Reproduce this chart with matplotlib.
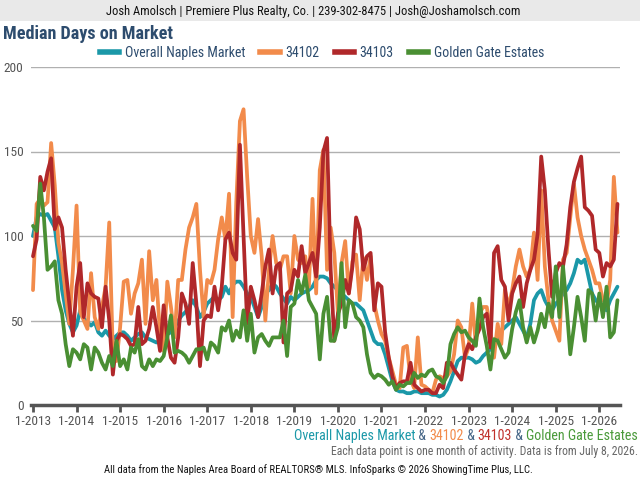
import numpy as np
import matplotlib
matplotlib.use("Agg")
import matplotlib.pyplot as plt
from matplotlib import font_manager
from matplotlib.lines import Line2D
from matplotlib.patches import Rectangle

# prefer a condensed sans, the original uses a narrow Helvetica-like face
fonts = font_manager.fontManager.ttflist
names = {f.name for f in fonts}
STRETCH = "normal"
if "Liberation Sans Narrow" in names:
    FONT = "Liberation Sans Narrow"
elif "Roboto Condensed" in names:
    FONT = "Roboto Condensed"
elif any(f.name == "DejaVu Sans" and f.stretch == "condensed" for f in fonts):
    FONT, STRETCH = "DejaVu Sans", "condensed"
else:
    FONT = "Liberation Sans"
plt.rcParams["font.family"] = [FONT, "DejaVu Sans"]
plt.rcParams["font.stretch"] = STRETCH

# monthly median days on market, Jan 2013 .. Jun 2026
overall = (
    [100, 111, 113, 112, 113, 109, 105, 88, 68, 56, 48, 43]
    + [47, 56, 51, 49, 47, 49, 43, 41, 44, 41, 39, 41]
    + [43, 43, 41, 38, 40, 42, 43, 40, 39, 38, 37, 38]
    + [40, 42, 43, 46, 50, 53, 55, 58, 62, 58, 52, 55]
    + [60, 62, 64, 62, 64, 70, 66, 71, 73, 73, 70, 66]
    + [64, 58, 52, 58, 66, 68, 72, 70, 66, 63, 60, 64]
    + [62, 64, 66, 67, 68, 70, 74, 76, 76, 75, 72, 70]
    + [68, 66, 64, 62, 60, 60, 58, 56, 50, 44, 38, 36]
    + [36, 30, 22, 14, 9, 8, 8, 7, 7, 8, 8, 7]
    + [7, 7, 6, 6, 5, 6, 9, 14, 20, 26, 28, 28]
    + [28, 27, 25, 26, 29, 31, 33, 36, 40, 44, 46, 48]
    + [50, 52, 48, 44, 40, 48, 62, 66, 68, 62, 58, 56]
    + [60, 62, 66, 68, 72, 78, 86, 84, 86, 76, 66, 62]
    + [60, 58, 56, 62, 66, 70]
)
zip_34102 = (
    [68, 119, 122, 118, 120, 155, 130, 96, 84, 66, 48, 80]
    + [118, 55, 50, 45, 78, 52, 45, 58, 70, 108, 30, 26]
    + [46, 73, 74, 54, 66, 72, 86, 48, 91, 62, 74, 42]
    + [32, 73, 58, 40, 74, 74, 92, 105, 111, 119, 80, 52]
    + [74, 72, 80, 98, 111, 98, 125, 52, 120, 168, 175, 135]
    + [100, 90, 110, 88, 50, 80, 100, 84, 80, 88, 88, 66]
    + [100, 86, 84, 88, 70, 122, 66, 139, 151, 80, 105, 90]
    + [54, 84, 97, 66, 85, 89, 62, 87, 74, 88, 60, 50]
    + [42, 38, 28, 20, 12, 10, 34, 35, 15, 10, 40, 12]
    + [11, 9, 7, 15, 17, 16, 17, 20, 30, 50, 46, 28]
    + [34, 60, 36, 54, 58, 58, 44, 28, 48, 36, 68, 58]
    + [68, 82, 92, 82, 76, 80, 102, 74, 127, 82, 62, 50]
    + [44, 38, 86, 90, 111, 131, 111, 100, 92, 86, 80, 72]
    + [72, 62, 60, 74, 135, 102]
)
zip_34103 = (
    [88, 98, 135, 127, 138, 146, 104, 111, 105, 80, 60, 41]
    + [70, 84, 52, 72, 66, 64, 63, 46, 70, 50, 18, 38]
    + [42, 41, 39, 35, 36, 58, 36, 38, 45, 58, 46, 32]
    + [59, 40, 28, 25, 40, 66, 60, 48, 84, 60, 23, 50]
    + [53, 52, 70, 56, 70, 98, 102, 90, 86, 154, 100, 48]
    + [70, 62, 52, 66, 82, 92, 66, 82, 84, 37, 66, 68]
    + [80, 76, 94, 78, 84, 90, 76, 105, 150, 158, 80, 38]
    + [54, 60, 74, 66, 82, 111, 104, 80, 88, 90, 56, 72]
    + [70, 43, 28, 17, 10, 13, 14, 14, 25, 12, 10, 8]
    + [9, 9, 7, 7, 12, 10, 25, 25, 21, 18, 15, 30]
    + [36, 33, 40, 45, 52, 54, 34, 90, 94, 74, 70, 50]
    + [66, 72, 76, 58, 72, 80, 86, 101, 147, 127, 92, 64]
    + [78, 84, 82, 95, 117, 132, 140, 147, 117, 115, 112, 92]
    + [90, 76, 84, 82, 86, 119]
)
golden_gate = (
    [106, 103, 131, 111, 80, 82, 85, 62, 54, 36, 23, 33]
    + [31, 27, 36, 34, 21, 34, 31, 25, 21, 29, 23, 38]
    + [23, 27, 21, 34, 31, 39, 23, 21, 27, 23, 27, 26]
    + [29, 40, 53, 31, 32, 31, 29, 25, 29, 33, 33, 34]
    + [27, 37, 35, 31, 46, 44, 50, 38, 44, 40, 56, 38]
    + [54, 31, 40, 42, 38, 35, 40, 40, 40, 50, 29, 58]
    + [60, 74, 66, 77, 62, 58, 54, 27, 54, 64, 38, 38]
    + [46, 84, 46, 62, 60, 52, 50, 46, 30, 19, 16, 18]
    + [17, 15, 12, 14, 9, 12, 11, 13, 13, 19, 16, 18]
    + [17, 20, 21, 17, 16, 13, 17, 36, 42, 46, 43, 44]
    + [40, 38, 35, 63, 46, 35, 21, 39, 38, 33, 28, 31]
    + [45, 55, 62, 46, 37, 46, 37, 44, 54, 46, 60, 52]
    + [82, 52, 82, 58, 30, 46, 64, 52, 38, 68, 66, 50]
    + [66, 52, 70, 40, 43, 62]
)

series_names = ["Overall Naples Market", "34102", "34103", "Golden Gate Estates"]
series_colors = ["#1b98a8", "#f28b4b", "#b0282a", "#4a8f33"]
year_labels = ["1-%d" % y for y in range(2013, 2027)]

TEXT_BLUE = "#2d4c6e"
GRAY = "#555555"

BANNER = "Josh Amolsch | Premiere Plus Realty, Co. | 239-302-8475 | Josh@Joshamolsch.com"
TITLE = "Median Days on Market"
NOTE = "Each data point is one month of activity. Data is from July 8, 2026."
SOURCE = ("All data from the Naples Area Board of REALTORS\u00ae MLS. "
          "InfoSparks \u00a9 2026 ShowingTime Plus, LLC.")

fig = plt.figure(figsize=(6.4, 4.8), dpi=100)
r = fig.canvas.get_renderer()


def fit_size(text, width_px, **kw):
    # font size that makes `text` about width_px wide
    t = fig.text(0, 0, text, fontsize=10, **kw)
    w = t.get_window_extent(renderer=r).width
    t.remove()
    return 10 * width_px / w


banner_fs = fit_size(BANNER, 410)
title_fs = fit_size(TITLE, 170, fontweight="bold")
legend_fs = fit_size("Overall Naples Market", 120)
tick_fs = fit_size("1-2013", 36)
caption_fs = fit_size("Overall Naples Market & 34102 & 34103 & Golden Gate Estates", 344)
note_fs = fit_size(NOTE, 306)
source_fs = fit_size(SOURCE, 426)

# header banner
fig.patches.append(Rectangle((0, 1 - 21 / 480), 1, 21 / 480, transform=fig.transFigure,
                             facecolor="#e9e9e9", edgecolor="none", zorder=0))
fig.text(0.49, 1 - 11 / 480, BANNER, ha="center", va="center", fontsize=banner_fs, color="#111111")
fig.text(3 / 640, 1 - 34 / 480, TITLE, ha="left", va="center",
         fontsize=title_fs, fontweight="bold", color=TEXT_BLUE)

ax = fig.add_axes([30.6 / 640, 75 / 480, (620 - 30.6) / 640, 338 / 480])

x = np.arange(len(overall))
for vals, name, col in zip([overall, zip_34102, zip_34103, golden_gate], series_names, series_colors):
    ax.plot(x, vals, color=col, lw=2.7, solid_joinstyle="round", solid_capstyle="round", label=name)

ax.set_xlim(-0.66, 161.7)
ax.set_ylim(0, 200)
ax.set_yticks([0, 50, 100, 150, 200])
ax.set_xticks(np.arange(0, len(year_labels) * 12, 12))
ax.set_xticklabels(year_labels)
ax.grid(axis="y", color="#b0b0b0", lw=1)
ax.set_axisbelow(True)
for s in ["top", "right", "left"]:
    ax.spines[s].set_visible(False)
ax.spines["bottom"].set_color(GRAY)
ax.spines["bottom"].set_linewidth(2.5)
ax.tick_params(axis="x", length=5, width=2, color=GRAY, labelcolor=GRAY, labelsize=tick_fs, pad=2)
ax.tick_params(axis="y", length=0, labelcolor=GRAY, labelsize=tick_fs, pad=5)

handles = [Line2D([], [], color=c, lw=4) for c in series_colors]
leg = fig.legend(handles, series_names, loc="center", bbox_to_anchor=(322 / 640, 1 - 53 / 480),
                 ncol=4, frameon=False, fontsize=legend_fs, handlelength=1.4, handletextpad=0.4,
                 columnspacing=1.1)
for t in leg.get_texts():
    t.set_color(TEXT_BLUE)

# multi-coloured caption, right aligned
parts = [("Overall Naples Market", "#1b98a8"), (" & ", "#4a6a8a"), ("34102", "#f28b4b"),
         (" & ", "#4a6a8a"), ("34103", "#c0312c"), (" & ", "#4a6a8a"),
         ("Golden Gate Estates", "#4a9a3a")]
xpos = 638 / 640
for s, c in reversed(parts):
    t = fig.text(xpos, 1 - 436 / 480, s, color=c, ha="right", va="center", fontsize=caption_fs)
    bb = t.get_window_extent(renderer=r)
    xpos = bb.x0 / fig.bbox.width

fig.text(638 / 640, 1 - 452 / 480, NOTE, ha="right", va="center", fontsize=note_fs, color="#666666")
fig.text(318 / 640, 1 - 470 / 480, SOURCE, ha="center", va="center", fontsize=source_fs, color="#111111")

fig.savefig("out.png", dpi=100)
